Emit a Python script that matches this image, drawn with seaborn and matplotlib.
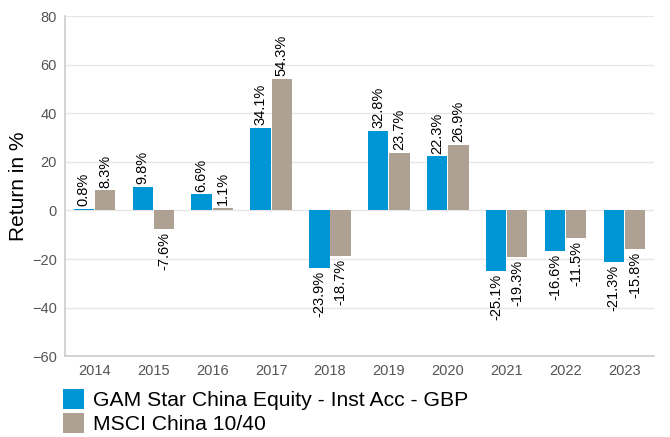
import matplotlib
matplotlib.use("Agg")
import matplotlib.pyplot as plt
import seaborn as sns
import pandas as pd
from matplotlib.patches import Patch

years = ["2014", "2015", "2016", "2017", "2018", "2019", "2020", "2021", "2022", "2023"]
fund = [0.8, 9.8, 6.6, 34.1, -23.9, 32.8, 22.3, -25.1, -16.6, -21.3]
index = [8.3, -7.6, 1.1, 54.3, -18.7, 23.7, 26.9, -19.3, -11.5, -15.8]
series_names = ["GAM Star China Equity - Inst Acc - GBP", "MSCI China 10/40"]
colors = ["#0096D6", "#AEA092"]

df = pd.DataFrame({
    "Year": years * 2,
    "Return": fund + index,
    "Series": [series_names[0]] * len(years) + [series_names[1]] * len(years),
})

sns.set_style("white")
plt.rcParams["font.family"] = ["Liberation Sans", "DejaVu Sans"]

fig = plt.figure(figsize=(6.7, 4.37), dpi=100)
ax = fig.add_axes([0.097, 0.185, 0.879, 0.778])

sns.barplot(data=df, x="Year", y="Return", hue="Series", palette=colors,
            width=0.72, gap=0.04, ax=ax, legend=False, saturation=1,
            edgecolor="none", linewidth=0)

for container, vals in zip(ax.containers, [fund, index]):
    ax.bar_label(container, labels=[f"{v:.1f}%" for v in vals], rotation=90,
                 padding=2, fontsize=10.5, color="black")

ax.set_ylim(-60, 80)
ax.set_yticks(range(-60, 81, 20))
ax.yaxis.grid(True, color="#e6e6e6", linewidth=1)
ax.set_axisbelow(True)
ax.set_xlabel("")
ax.set_ylabel("Return in %", fontsize=15, color="black", labelpad=2.5)
ax.tick_params(axis="both", labelsize=10.5, colors="#555555", length=0)
ax.tick_params(axis="x", pad=6)
ax.tick_params(axis="y", pad=6)
for s in ["top", "right"]:
    ax.spines[s].set_visible(False)
for s in ["left", "bottom"]:
    ax.spines[s].set_color("#cccccc")
    ax.spines[s].set_linewidth(1.2)

handles = [Patch(facecolor=c, edgecolor="none") for c in colors]
fig.legend(handles, series_names, loc="upper left", bbox_to_anchor=(0.094, 0.11),
           frameon=False, fontsize=15.2, handlelength=1.0, handleheight=1.1,
           handletextpad=0.4, labelspacing=0.12, borderaxespad=0, borderpad=0,
           labelcolor="black")

fig.savefig("out.png", dpi=100)
